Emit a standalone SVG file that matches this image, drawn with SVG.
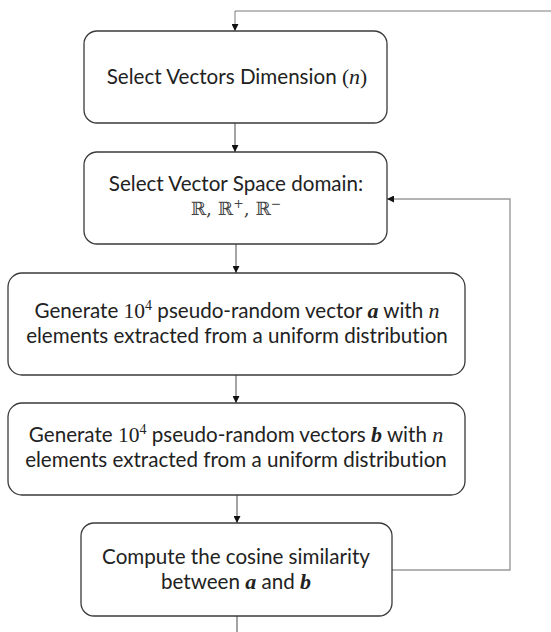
<svg xmlns="http://www.w3.org/2000/svg" width="551" height="632" viewBox="0 0 551 632">
  <style>
    .box { fill: #ffffff; stroke: #3a3a3a; stroke-width: 1.3; }
    .t { font-family: Lato, "Open Sans", sans-serif; font-size: 20.6px; fill: #222222; text-anchor: middle; font-variant-ligatures: none; }
    .m { font-family: "Liberation Serif", "DejaVu Serif", serif; font-size: 21.5px; }
    .mi { font-family: "Liberation Serif", "DejaVu Serif", serif; font-style: italic; font-size: 22px; }
    .mb { font-family: "Liberation Serif", "DejaVu Serif", serif; font-style: italic; font-weight: bold; font-size: 22px; }
    .ds { font-family: "DejaVu Serif", "DejaVu Sans", serif; font-size: 18.5px; fill: #444444; }
    .sup { font-family: "Liberation Serif", "DejaVu Serif", serif; font-size: 14px; }
    .flow { fill: none; stroke: #4a4a4a; stroke-width: 1; }
    .back { fill: none; stroke: #9a9a9a; stroke-width: 1.4; }
  </style>
  <defs>
    <marker id="arrow" markerUnits="userSpaceOnUse" markerWidth="7" markerHeight="7" refX="7" refY="3.5" orient="auto">
      <path d="M0,0 L7,3.5 L0,7 Z" fill="#111111"/>
    </marker>
  </defs>

  <rect width="551" height="632" fill="#ffffff"/>

  <!-- connectors -->
  <g id="connectors">
    <path class="flow" d="M551,11 H235 V31" marker-end="url(#arrow)" style="stroke:#7a7a7a"/>
    <path class="flow" d="M235,123 V152" marker-end="url(#arrow)"/>
    <path class="flow" d="M236,244 V273" marker-end="url(#arrow)"/>
    <path class="flow" d="M236,375 V403" marker-end="url(#arrow)"/>
    <path class="flow" d="M237,495 V523" marker-end="url(#arrow)"/>
    <path class="flow" d="M237,616 V632"/>
    <path class="back" d="M392,570 H510 V199 H387" marker-end="url(#arrow)"/>
  </g>

  <!-- step 1: vector dimension -->
  <g id="select-dimension">
    <rect class="box" x="84" y="31" width="303" height="92" rx="13"/>
    <text class="t" x="237" y="84">Select Vectors Dimension <tspan class="m">(</tspan><tspan class="mi">n</tspan><tspan class="m">)</tspan></text>
  </g>

  <!-- step 2: vector space domain -->
  <g id="select-domain">
    <rect class="box" x="84" y="152" width="303" height="92" rx="13"/>
    <text class="t" x="236" y="191">Select Vector Space domain:</text>
    <text class="t ds" x="236" y="215">ℝ, ℝ<tspan font-size="12.5" dy="-7">+</tspan><tspan dy="7">, ℝ</tspan><tspan font-size="12.5" dy="-7">−</tspan></text>
  </g>

  <!-- step 3: generate vectors a -->
  <g id="generate-a">
    <rect class="box" x="8" y="273" width="457" height="102" rx="14"/>
    <text class="t" x="237" y="318">Generate <tspan class="m">10</tspan><tspan class="sup" dy="-8">4</tspan><tspan dy="8"> pseudo-random vector </tspan><tspan class="mb">a</tspan> with <tspan class="mi">n</tspan></text>
    <text class="t" x="237" y="343">elements extracted from a uniform distribution</text>
  </g>

  <!-- step 4: generate vectors b -->
  <g id="generate-b">
    <rect class="box" x="8" y="403" width="457" height="92" rx="14"/>
    <text class="t" x="236" y="442">Generate <tspan class="m">10</tspan><tspan class="sup" dy="-8">4</tspan><tspan dy="8"> pseudo-random vectors </tspan><tspan class="mb">b</tspan> with <tspan class="mi">n</tspan></text>
    <text class="t" x="236" y="467">elements extracted from a uniform distribution</text>
  </g>

  <!-- step 5: cosine similarity -->
  <g id="cosine-similarity">
    <rect class="box" x="81" y="523" width="311" height="93" rx="13"/>
    <text class="t" x="236" y="564">Compute the cosine similarity</text>
    <text class="t" x="236" y="589">between <tspan class="mb">a</tspan> and <tspan class="mb">b</tspan></text>
  </g>
</svg>
